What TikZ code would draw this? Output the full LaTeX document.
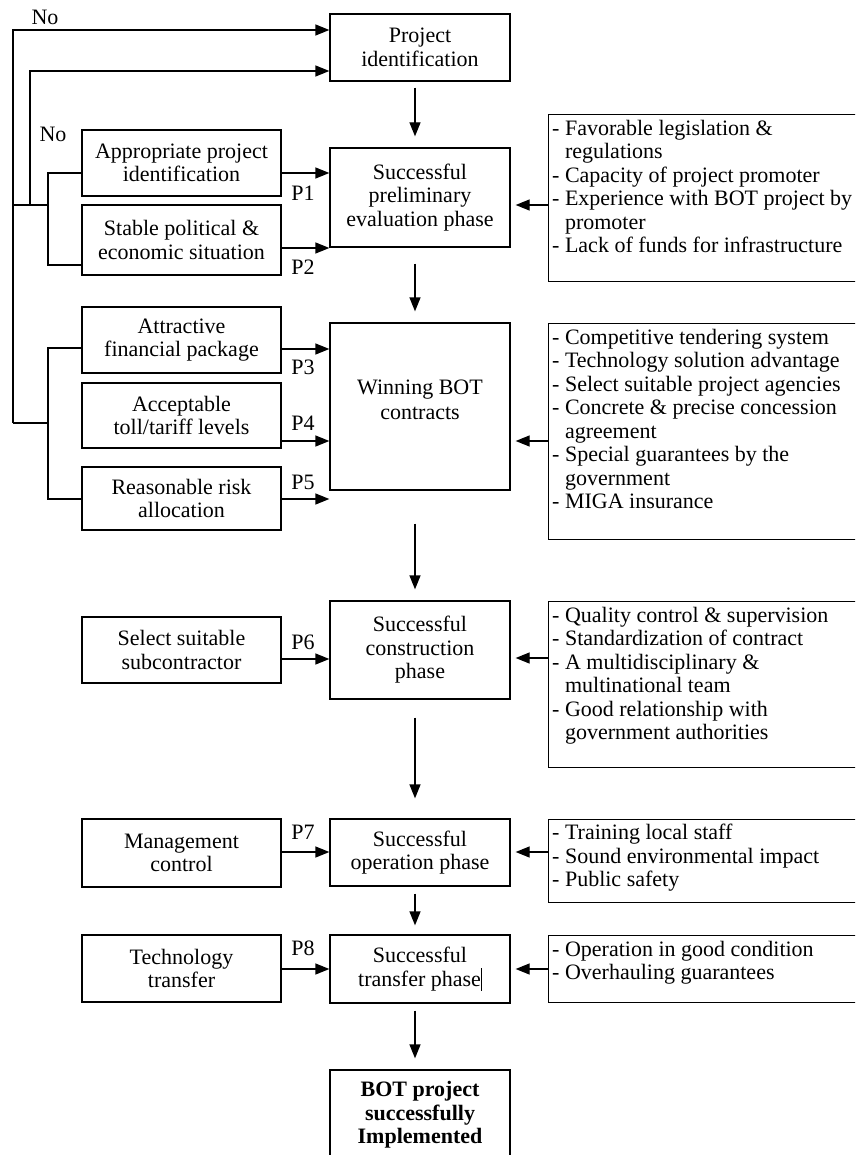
\documentclass[tikz,border=0pt]{standalone}
\usepackage{fontspec}
\setmainfont{Liberation Serif}
\usetikzlibrary{arrows.meta}
\newcommand{\myfs}{\fontsize{22}{23.5}\selectfont}
\begin{document}
\begin{tikzpicture}[x=1pt,y=-1pt,
  box/.style={draw, line width=1.3pt, inner sep=0pt, align=center, font=\myfs},
  rbox/.style={draw, line width=1.3pt, inner sep=0pt, anchor=north west, minimum width=322},
  rtext/.style={inner sep=0pt, anchor=north west, align=left, font=\myfs},
  lbl/.style={inner sep=0pt, font=\myfs},
  ln/.style={line width=1.3pt, line join=miter},
  arr/.style={ln, -{Triangle[length=14pt,width=11pt]}}]
\useasboundingbox (0,0) rectangle (855,1155);
\clip (0,0) rectangle (855,1155);
\fill[white] (0,0) rectangle (855,1155);

% centre column
\node[box, minimum width=180, minimum height=67] (pid) at (420,47.5) {Project\\identification};
\node[box, minimum width=180, minimum height=99] (pre) at (420,197.5) {Successful\\preliminary\\evaluation phase};
\node[box, minimum width=180, minimum height=167] (win) at (420,406.5) {};
\node[lbl, align=center] (wint) at (420,400) {Winning BOT\\[2pt]contracts};
\node[box, minimum width=180, minimum height=98] (con) at (420,650) {Successful\\construction\\phase};
\node[box, minimum width=180, minimum height=67] (ope) at (420,852.5) {Successful\\operation phase};
\node[box, minimum width=180, minimum height=68] (tra) at (420,969) {Successful\\transfer phase\rule[-0.22em]{0.8pt}{1.05em}};
\node[box, minimum width=180, minimum height=90, font=\myfs\bfseries] (bot) at (420,1115) {BOT project\\successfully\\Implemented};

% left column
\node[box, minimum width=199, minimum height=66] (app) at (181.5,163) {Appropriate project\\identification};
\node[box, minimum width=199, minimum height=70] (sta) at (181.5,240) {Stable political \&\\economic situation};
\node[box, minimum width=199, minimum height=66] (att) at (181.5,340) {Attractive\\financial package};
\node[box, minimum width=199, minimum height=65] (acc) at (181.5,415.5) {Acceptable\\toll/tariff levels};
\node[box, minimum width=199, minimum height=63] (rea) at (181.5,498.5) {Reasonable risk\\allocation};
\node[box, minimum width=199, minimum height=66] (sel) at (181.5,650) {Select suitable\\subcontractor};
\node[box, minimum width=199, minimum height=68] (man) at (181.5,853) {Management\\control};
\node[box, minimum width=199, minimum height=67] (tec) at (181.5,968.5) {Technology\\transfer};

% right column
\node[rbox, minimum height=167] (r1) at (548,114) {};
\node[rtext] (t1) at (552,120) {- Favorable legislation \&\\\phantom{- }regulations\\- Capacity of project promoter\\- Experience with BOT project by\\\phantom{- }promoter\\- Lack of funds for infrastructure};
\node[rbox, minimum height=216] (r2) at (548,323) {};
\node[rtext] (t2) at (552,329) {- Competitive tendering system\\- Technology solution advantage\\- Select suitable project agencies\\- Concrete \& precise concession\\\phantom{- }agreement\\- Special guarantees by the\\\phantom{- }government\\- MIGA insurance};
\node[rbox, minimum height=166] (r3) at (548,601) {};
\node[rtext] (t3) at (552,607) {- Quality control \& supervision\\- Standardization of contract\\- A multidisciplinary \&\\\phantom{- }multinational team\\- Good relationship with\\\phantom{- }government authorities};
\node[rbox, minimum height=83] (r4) at (548,819) {};
\node[rtext] (t4) at (552,824) {- Training local staff\\- Sound environmental impact\\- Public safety};
\node[rbox, minimum height=67] (r5) at (548,935) {};
\node[rtext] (t5) at (552,941) {- Operation in good condition\\- Overhauling guarantees};

% vertical flow arrows
\draw[arr, shorten <=6pt, shorten >=11pt] ([xshift=-5pt]pid.south) -- ([xshift=-5pt]pre.north);
\draw[arr, shorten <=16pt, shorten >=11pt] ([xshift=-5pt]pre.south) -- ([xshift=-5pt]win.north);
\draw[arr, shorten <=33pt, shorten >=11pt] ([xshift=-5pt]win.south) -- ([xshift=-5pt]con.north);
\draw[arr, shorten <=18pt, shorten >=20pt] ([xshift=-5pt]con.south) -- ([xshift=-5pt]ope.north);
\draw[arr, shorten <=7pt, shorten >=9pt] ([xshift=-5pt]ope.south) -- ([xshift=-5pt]tra.north);
\draw[arr, shorten <=7pt, shorten >=11pt] ([xshift=-5pt]tra.south) -- ([xshift=-5pt]bot.north);

% left inputs
\draw[arr] (app.east |- 0,173) -- (pre.west |- 0,173);
\draw[arr] (sta.east |- 0,248) -- (pre.west |- 0,248);
\draw[arr] (att.east |- 0,349) -- (win.west |- 0,349);
\draw[arr] (acc.east |- 0,441) -- (win.west |- 0,441);
\draw[arr] (rea.east |- 0,499) -- (win.west |- 0,499);
\draw[arr] (sel.east |- 0,659) -- (con.west |- 0,659);
\draw[arr] (man.east |- 0,852) -- (ope.west |- 0,852);
\draw[arr] (tec.east |- 0,969) -- (tra.west |- 0,969);

\node[lbl] (p1) at (303,193) {P1};
\node[lbl] (p2) at (303,267) {P2};
\node[lbl] (p3) at (303,367) {P3};
\node[lbl] (p4) at (303,423) {P4};
\node[lbl] (p5) at (303,482) {P5};
\node[lbl] (p6) at (303,642) {P6};
\node[lbl] (p7) at (303,832) {P7};
\node[lbl] (p8) at (303,948) {P8};

% right inputs
\draw[arr, shorten >=5pt] (r1.west |- 0,205) -- (pre.east |- 0,205);
\draw[arr, shorten >=5pt] (r2.west |- 0,441) -- (win.east |- 0,441);
\draw[arr, shorten >=5pt] (r3.west |- 0,658) -- (con.east |- 0,658);
\draw[arr, shorten >=5pt] (r4.west |- 0,852) -- (ope.east |- 0,852);
\draw[arr, shorten >=5pt] (r5.west |- 0,969) -- (tra.east |- 0,969);

% feedback lines
\coordinate (ba1) at (48,173);
\coordinate (ba2) at (48,265);
\coordinate (bj1) at (48,205);
\coordinate (oj1) at (13,205);
\coordinate (ot) at (13,30);
\coordinate (ob) at (13,423);
\coordinate (ij) at (30,205);
\coordinate (it) at (30,71);
\coordinate (bb1) at (48,348);
\coordinate (bb2) at (48,499);
\coordinate (bj2) at (48,423);
\draw[ln] (app.west |- ba1) -- (ba1) -- (ba2) -- (sta.west |- ba2);
\draw[ln] (bj1) -- (oj1);
\draw[arr] (ob) -- (ot) -- (pid.west |- ot);
\draw[arr] (ij) -- (it) -- (pid.west |- it);
\draw[ln] (ob) -- (bj2);
\draw[ln] (att.west |- bb1) -- (bb1) -- (bb2) -- (rea.west |- bb2);

\node[lbl] (no1) at (45,17) {No};
\node[lbl] (no2) at (53,134) {No};
\end{tikzpicture}
\end{document}
